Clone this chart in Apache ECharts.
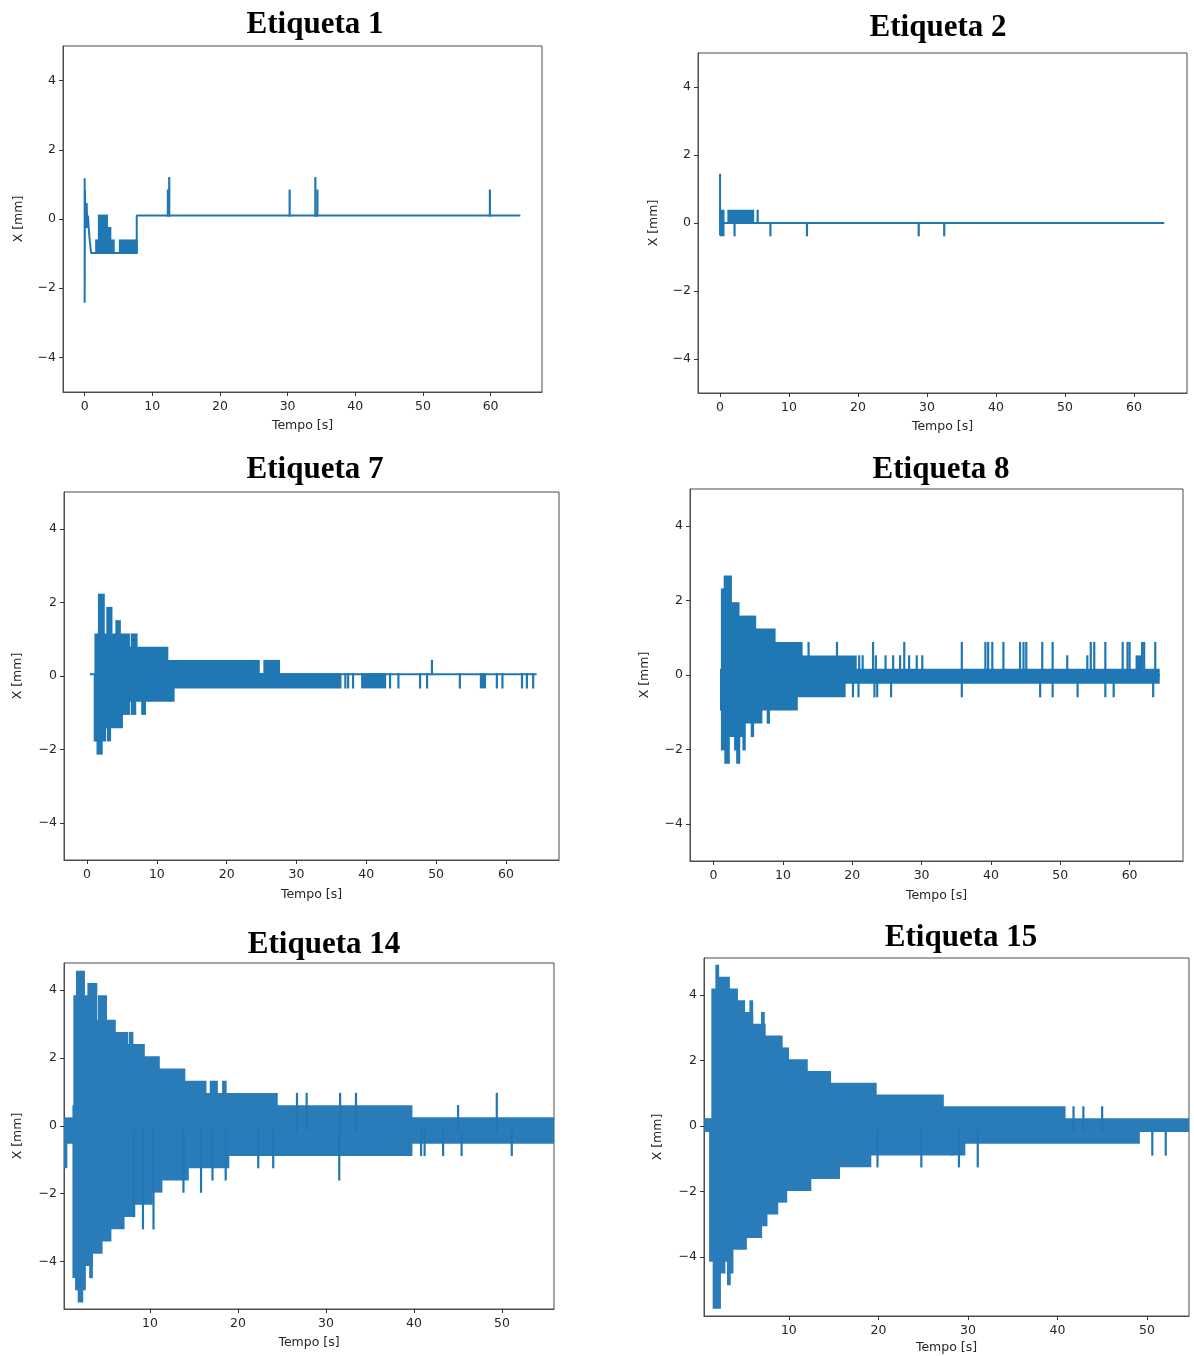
<!DOCTYPE html>
<html><head><meta charset="utf-8">
<script src="https://cdn.jsdelivr.net/npm/echarts@6/dist/echarts.min.js"></script>
<style>html,body{margin:0;padding:0;background:#fff}#c{width:1194px;height:1356px}</style>
</head><body><div id="c"></div>
<script>
// ---------- tick labels / titles ----------
const ticksFull = [0, 10, 20, 30, 40, 50, 60];
const ticksShort = [10, 20, 30, 40, 50];
const ticksY = [-4, -2, 0, 2, 4];
const titles = ['Etiqueta 1', 'Etiqueta 2', 'Etiqueta 7', 'Etiqueta 8', 'Etiqueta 14', 'Etiqueta 15'];
const xName = 'Tempo [s]';
const yName = 'X [mm]';

// ---------- Etiqueta 1 ----------
const e1TraceT = [0, 0, 0.05, 0.1, 0.15, 0.2, 0.3, 0.4, 0.5, 0.6, 0.75, 0.95, 7.7, 7.7, 64.4];
const e1TraceX = [1.18, -2.42, 0.82, -0.26, 0.46, 0.1, 0.46, -0.26, 0.1, -0.26, -0.62, -0.98, -0.98, 0.1, 0.1];
const e1StepBase = -0.98;
const e1StepStart = [1.7, 2.1, 3.3, 3.8, 5.2];
const e1StepEnd = [2.0, 3.3, 3.8, 4.3, 7.7];
const e1StepLevel = [-0.62, 0.1, -0.26, -0.62, -0.62];
const e1SpikeBase = 0.1;
const e1SpikeT = [12.3, 12.5, 30.3, 34.1, 34.4, 59.9];
const e1SpikeLevel = [0.82, 1.18, 0.82, 1.18, 0.82, 0.82];

// ---------- Etiqueta 2 ----------
const e2TraceT = [0, 0, 0.1, 64.4];
const e2TraceX = [1.45, -0.36, 0, 0];
const e2Base = 0;
const e2StepStart = [0.1, 0.1, 1.2];
const e2StepEnd = [0.5, 0.5, 4.8];
const e2StepLevel = [0.36, -0.36, 0.36];
const e2SpikeT = [2.1, 5.45, 7.3, 12.6, 28.8, 32.5];
const e2SpikeLevel = [-0.36, 0.36, -0.36, -0.36, -0.36, -0.36];

// ---------- Etiqueta 7 ----------
const e7TraceT = [0.4, 64.4];
const e7TraceX = [0.05, 0.05];
const e7Base = 0.05;
const e7StepStart = [1.2, 1.7, 2.9, 4.2, 6.0, 6.4, 11.5, 25.4,
  1.1, 1.5, 2.6, 3.0, 5.0, 6.0, 6.4, 7.9, 12.4, 39.4, 56.4];
const e7StepEnd = [6.0, 2.4, 3.5, 4.7, 11.5, 7.1, 24.6, 27.5,
  2.6, 2.1, 5.0, 3.3, 6.0, 12.4, 6.9, 8.3, 36.3, 42.7, 57.0];
const e7StepLevel = [1.13, 2.21, 1.85, 1.49, 0.77, 1.13, 0.41, 0.41,
  -1.75, -2.11, -1.39, -1.75, -1.03, -0.67, -1.03, -1.03, -0.31, -0.31, -0.31];
const e7SpikeT = [37.0, 37.4, 38.1, 43.4, 44.6, 47.7, 48.7, 49.4, 53.4, 58.7, 59.5, 62.3, 63.0, 63.9];
const e7SpikeLevel = [-0.31, -0.31, -0.31, -0.31, -0.31, -0.31, -0.31, 0.41, -0.31, -0.31, -0.31, -0.31, -0.31, -0.31];

// ---------- Etiqueta 8 ----------
const e8Base = 0;
const e8StepStart = [1.07, 1.2, 1.6, 2.5, 3.6, 5.4, 5.2, 8.8, 12.7, 20.5, 61.0,
  1.07, 1.2, 1.7, 1.8, 3.1, 3.4, 4.3, 4.2, 5.5, 6.9, 7.8, 12.0, 18.9];
const e8StepEnd = [1.2, 1.7, 2.5, 3.6, 5.2, 6.0, 8.8, 12.7, 20.5, 64.2, 61.7,
  1.3, 1.8, 2.2, 4.2, 3.4, 3.7, 4.5, 6.9, 5.7, 12.0, 8.0, 18.9, 64.2];
const e8StepLevel = [0.14, 2.3, 2.65, 1.93, 1.57, 1.57, 1.22, 0.86, 0.5, 0.14, 0.5,
  -0.93, -2.0, -2.36, -1.64, -2.0, -2.36, -2.0, -1.28, -1.64, -0.93, -1.28, -0.57, -0.21];
const e8SpikeT = [13.7, 17.8, 23.0, 27.5, 35.8, 39.2, 39.6, 40.2, 41.8, 44.2, 44.7, 45.1, 47.4, 48.9,
  54.4, 54.9, 56.5, 59.0, 59.7, 60.0, 61.8, 62.1, 63.7,
  21.0, 21.5, 23.4, 24.8, 25.9, 26.9, 28.2, 29.3, 30.1, 51.0, 53.9,
  20.1, 20.9, 23.2, 23.6, 25.6, 35.8, 47.1, 48.9, 52.5, 56.5, 57.7, 63.4];
const e8SpikeLevel = [0.86, 0.86, 0.86, 0.86, 0.86, 0.86, 0.86, 0.86, 0.86, 0.86, 0.86, 0.86, 0.86, 0.86,
  0.86, 0.86, 0.86, 0.86, 0.86, 0.86, 0.86, 0.86, 0.86,
  0.5, 0.5, 0.5, 0.5, 0.5, 0.5, 0.5, 0.5, 0.5, 0.5, 0.5,
  -0.57, -0.57, -0.57, -0.57, -0.57, -0.57, -0.57, -0.57, -0.57, -0.57, -0.57, -0.57];

// ---------- Etiqueta 14 ----------
const e14Base = -0.14;
const e14StepStart = [0.25, 1.3, 1.4, 1.7, 3.0, 3.4, 4.2, 5.0, 6.0, 7.7, 7.4, 9.3, 11.0, 13.9, 16.0, 16.9, 18.3, 15.8, 24.4, 39.7,
  0.25, 0.5, 1.3, 1.6, 1.9, 2.3, 2.6, 3.2, 3.4, 4.5, 5.5, 7.0, 8.1, 10.2, 11.3, 14.3, 18.9, 39.7];
const e14StepEnd = [1.3, 1.5, 3.4, 2.5, 3.9, 4.2, 5.0, 6.0, 7.4, 8.0, 9.3, 11.0, 13.9, 15.8, 16.3, 17.6, 18.6, 24.4, 39.7, 56.0,
  0.5, 1.3, 1.7, 2.0, 2.3, 2.6, 3.4, 3.4, 4.5, 5.5, 7.0, 8.1, 10.2, 11.3, 14.3, 18.9, 39.7, 56.0];
const e14StepLevel = [0.22, 0.58, 3.82, 4.54, 4.18, 3.10, 3.82, 3.10, 2.74, 2.74, 2.38, 2.02, 1.66, 1.30, 1.30, 1.30, 1.30, 0.94, 0.58, 0.22,
  -1.22, -0.50, -4.46, -4.82, -5.18, -4.82, -4.10, -4.46, -3.74, -3.38, -3.02, -2.66, -2.30, -1.94, -1.58, -1.22, -0.86, -0.50];
const e14SpikeT = [26.7, 27.8, 31.6, 33.4, 49.4, 45.0,
  8.2, 9.2, 10.4, 13.8, 15.8, 17.1, 18.6, 31.5, 22.3, 24.0, 40.8, 41.2, 43.3, 45.4, 51.1];
const e14SpikeLevel = [0.94, 0.94, 0.94, 0.94, 0.94, 0.58,
  -2.66, -3.02, -3.02, -1.94, -1.94, -1.58, -1.58, -1.58, -1.22, -1.22, -0.86, -0.86, -0.86, -0.86, -0.86];

// ---------- Etiqueta 15 ----------
const e15Base = -0.15;
const e15StepStart = [0.65, 1.45, 1.9, 2.0, 3.0, 4.2, 5.7, 5.0, 5.9, 7.0, 7.3, 9.0, 8.9, 9.9, 12.0, 14.6, 19.7, 27.2, 40.8,
  1.2, 1.6, 2.3, 2.8, 3.2, 3.5, 3.4, 5.2, 6.9, 7.5, 8.7, 9.7, 12.4, 15.6, 19.1, 28.2, 28.2];
const e15StepEnd = [1.45, 2.0, 2.1, 3.3, 4.2, 5.0, 5.9, 5.9, 7.3, 7.2, 8.9, 9.2, 9.9, 12.0, 14.6, 19.7, 27.2, 40.8, 55.0,
  1.6, 2.3, 2.8, 3.4, 3.4, 3.7, 5.2, 6.9, 7.5, 8.7, 9.7, 12.4, 15.6, 19.1, 28.2, 29.6, 49.1];
const e15StepLevel = [0.21, 4.17, 4.89, 4.53, 4.17, 3.81, 3.81, 3.45, 3.09, 3.45, 2.73, 2.73, 2.37, 2.01, 1.65, 1.29, 0.93, 0.57, 0.21,
  -4.11, -5.55, -4.47, -4.11, -4.83, -4.47, -3.75, -3.39, -3.03, -2.67, -2.31, -1.95, -1.59, -1.23, -0.87, -0.87, -0.51];
const e15SpikeT = [41.8, 42.9, 45.0, 19.9, 24.8, 29.0, 31.1, 50.6, 52.1];
const e15SpikeLevel = [0.57, 0.57, 0.57, -1.23, -1.23, -1.23, -1.23, -0.87, -0.87];

// ---------- build ----------
const BLUE = '#1f77b4';
const DENSE_BLUE = '#2a7cb9';
const zip = (...arrs) => arrs[0].map((_, i) => arrs.map(a => a[i]));

const panels = [
  { trace: [e1TraceT, e1TraceX], stepBase: e1StepBase, steps: [e1StepStart, e1StepEnd, e1StepLevel], spikeBase: e1SpikeBase, spikes: [e1SpikeT, e1SpikeLevel], fill: BLUE,
    grid: { left: 63, top: 46, width: 479, height: 346 }, xr: [-3.2, 67.6], yr: [-5, 5], xt: ticksFull, title: [315, 9], xGap: 27, yGap: 38 },
  { trace: [e2TraceT, e2TraceX], stepBase: e2Base, steps: [e2StepStart, e2StepEnd, e2StepLevel], spikeBase: e2Base, spikes: [e2SpikeT, e2SpikeLevel], fill: BLUE,
    grid: { left: 698, top: 53, width: 489, height: 340 }, xr: [-3.2, 67.7], yr: [-5, 5], xt: ticksFull, title: [938, 12], xGap: 27, yGap: 38 },
  { trace: [e7TraceT, e7TraceX], stepBase: e7Base, steps: [e7StepStart, e7StepEnd, e7StepLevel], spikeBase: e7Base, spikes: [e7SpikeT, e7SpikeLevel], fill: BLUE,
    grid: { left: 64, top: 492, width: 495, height: 368 }, xr: [-3.3, 67.6], yr: [-5, 5], xt: ticksFull, title: [315, 454], xGap: 28, yGap: 40 },
  { trace: null, stepBase: e8Base, steps: [e8StepStart, e8StepEnd, e8StepLevel], spikeBase: e8Base, spikes: [e8SpikeT, e8SpikeLevel], fill: BLUE,
    grid: { left: 690, top: 489, width: 493, height: 372 }, xr: [-3.4, 67.7], yr: [-5, 5], xt: ticksFull, title: [941, 454], xGap: 28, yGap: 39 },
  { trace: null, stepBase: e14Base, steps: [e14StepStart, e14StepEnd, e14StepLevel], spikeBase: e14Base, spikes: [e14SpikeT, e14SpikeLevel], fill: DENSE_BLUE,
    grid: { left: 64, top: 963, width: 490, height: 346 }, xr: [0.23, 55.9], yr: [-5.4, 4.8], xt: ticksShort, title: [324, 929], xGap: 27, yGap: 40 },
  { trace: null, stepBase: e15Base, steps: [e15StepStart, e15StepEnd, e15StepLevel], spikeBase: e15Base, spikes: [e15SpikeT, e15SpikeLevel], fill: DENSE_BLUE,
    grid: { left: 704, top: 958, width: 485, height: 358 }, xr: [0.52, 54.7], yr: [-5.8, 5.13], xt: ticksShort, title: [961, 922], xGap: 25, yGap: 40 }
];

const minusFmt = v => (v < 0 ? '\u2212' + Math.abs(v) : String(v));
const labelStyle = { fontSize: 12.5, color: '#262626', fontFamily: 'DejaVu Sans' };
const FRAME = '#4d4d4d';

function stepRender(base, color) {
  return function (params, api) {
    const cs = params.coordSys;
    const a = api.coord([api.value(0), api.value(2)]);
    const b = api.coord([api.value(1), base]);
    let x0 = Math.min(a[0], b[0]) - 1, x1 = Math.max(a[0], b[0]) + 1;
    let y0 = Math.min(a[1], b[1]) - 1, y1 = Math.max(a[1], b[1]) + 1;
    x0 = Math.max(x0, cs.x); x1 = Math.min(x1, cs.x + cs.width);
    y0 = Math.max(y0, cs.y); y1 = Math.min(y1, cs.y + cs.height);
    if (x1 <= x0 || y1 <= y0) return null;
    return { type: 'rect', shape: { x: x0, y: y0, width: x1 - x0, height: y1 - y0 }, style: { fill: color } };
  };
}
function spikeRender(base) {
  return function (params, api) {
    const a = api.coord([api.value(0), base]);
    const b = api.coord([api.value(0), api.value(1)]);
    return { type: 'line', shape: { x1: a[0], y1: a[1], x2: b[0], y2: b[1] },
      style: { stroke: BLUE, lineWidth: 2.2, lineCap: 'square' } };
  };
}

const grid = [], xAxis = [], yAxis = [], series = [], graphic = [];
panels.forEach((p, i) => {
  grid.push(Object.assign({ show: true, borderColor: FRAME, borderWidth: 1, backgroundColor: '#fff', containLabel: false, outerBoundsMode: 'none' }, p.grid));
  xAxis.push({
    gridIndex: i, type: 'value', min: p.xr[0], max: p.xr[1], position: 'bottom',
    axisLine: { show: true, onZero: false, lineStyle: { color: FRAME, width: 1 } }, splitLine: { show: false },
    axisTick: { show: true, inside: false, length: 4, customValues: p.xt, lineStyle: { color: '#333' } },
    axisLabel: { customValues: p.xt, margin: 8, formatter: minusFmt, ...labelStyle },
    name: xName, nameLocation: 'middle', nameGap: p.xGap, nameTextStyle: { ...labelStyle }
  });
  yAxis.push({
    gridIndex: i, type: 'value', min: p.yr[0], max: p.yr[1], position: 'left',
    axisLine: { show: true, onZero: false, lineStyle: { color: FRAME, width: 1 } }, splitLine: { show: false },
    axisTick: { show: true, inside: false, length: 4, customValues: ticksY, lineStyle: { color: '#333' } },
    axisLabel: { customValues: ticksY, margin: 7, formatter: minusFmt, ...labelStyle },
    name: yName, nameLocation: 'middle', nameGap: p.yGap, nameTextStyle: { ...labelStyle }
  });
  if (p.trace) {
    series.push({ type: 'line', xAxisIndex: i, yAxisIndex: i, data: zip(p.trace[0], p.trace[1]),
      showSymbol: false, symbol: 'none', lineStyle: { color: BLUE, width: 2 }, animation: false, silent: true, z: 2 });
  }
  series.push({ type: 'custom', xAxisIndex: i, yAxisIndex: i, data: zip(p.steps[0], p.steps[1], p.steps[2]),
    encode: { x: [0, 1], y: 2 }, renderItem: stepRender(p.stepBase, p.fill), animation: false, silent: true, z: 3 });
  series.push({ type: 'custom', xAxisIndex: i, yAxisIndex: i, data: zip(p.spikes[0], p.spikes[1]),
    encode: { x: 0, y: 1 }, renderItem: spikeRender(p.spikeBase), animation: false, silent: true, z: 3 });
  graphic.push({ type: 'text', x: p.title[0], y: p.title[1], silent: true,
    style: { text: titles[i], fill: '#000', fontSize: 31, fontWeight: 'bold', fontFamily: 'Liberation Serif', align: 'center', verticalAlign: 'top' } });
});

const chart = echarts.init(document.getElementById('c'), null, { renderer: 'canvas' });
chart.setOption({ animation: false, backgroundColor: '#fff', grid, xAxis, yAxis, series, graphic });
</script>
</body></html>
